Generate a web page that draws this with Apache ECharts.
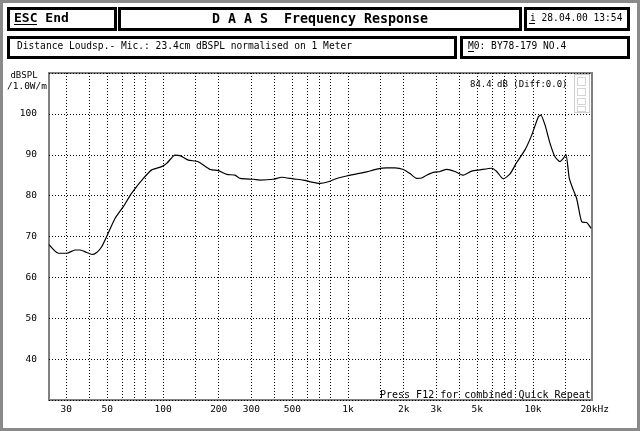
<!DOCTYPE html>
<html><head><meta charset="utf-8">
<script src="https://cdn.jsdelivr.net/npm/echarts@6/dist/echarts.min.js"></script>
<style>html,body{margin:0;padding:0;background:#fff}#c{width:640px;height:431px}</style>
</head><body><div id="c"></div>
<script>
// ---- data ----
const freqHz = [24.2,27.2,30.2,33.4,35.6,38.7,41.2,43.8,46.6,49.6,55,61,67.7,78.3,86.9,98.4,104.7,116.1,123.6,137,155,180,199,221,245,261,308,334,395,438,506,573,637,706,783,869,984,1114,1262,1429,1619,1795,1991,2163,2350,2500,2661,2891,3142,3416,3788,4200,4664,5170,5980,6365,6910,7510,8160,9050,9840,10690,11010,11610,12360,13150,13990,14580,15070,15710,16510,17220,18330,19500,20590];
const splDb = [68.0,65.9,65.9,66.7,66.7,66.1,65.6,66.1,67.5,70.0,74.4,77.3,80.6,84.2,86.3,87.1,87.9,89.9,89.8,88.7,88.3,86.4,86.1,85.2,85.0,84.2,84.0,83.8,84.0,84.5,84.1,83.8,83.3,83.0,83.4,84.2,84.8,85.3,85.8,86.5,86.8,86.8,86.4,85.4,84.2,84.3,85.0,85.7,85.9,86.4,85.9,85.0,86.0,86.3,86.7,85.9,84.1,85.3,88.1,91.2,94.8,99.3,99.7,97.3,92.8,89.5,88.3,89.1,90.1,84.2,81.4,79.3,73.6,73.4,72.0];
const gridFreqs = [30,40,50,60,70,80,100,150,200,300,400,500,600,700,800,1000,1500,2000,3000,4000,5000,6000,7000,8000,10000,15000];
const xLabelValues = [30,50,100,200,300,500,1000,2000,3000,5000,10000,20000];
const xLabelTexts = ['30','50','100','200','300','500','1k','2k','3k','5k','10k','20kHz'];
const yLabelValues = [40,50,60,70,80,90,100];

const MONO = '"DejaVu Sans Mono", "Liberation Mono", monospace';
const chart = echarts.init(document.getElementById('c'), null, {renderer:'canvas'});

function xLabel(v){
  for (let i=0;i<xLabelValues.length;i++){
    if (Math.abs(Math.log10(v)-Math.log10(xLabelValues[i]))<0.01){
      const t = xLabelTexts[i];
      return t==='20kHz' ? '{r|'+t+'}' : t;
    }
  }
  return '';
}

function box(x,y,w,h){
  return {type:'rect', shape:{x:x,y:y,width:w,height:h}, style:{fill:'#fff', stroke:'#000', lineWidth:3}, z:1};
}
function txt(x,y,t,size,bold,align){
  return {type:'text', x:x, y:y, z:5, style:{text:t, font:(bold?'bold ':'')+size+'px '+MONO, fill:'#000', textAlign:align||'left', textVerticalAlign:'middle'}};
}
function uline(x1,x2,y){
  return {type:'line', z:5, shape:{x1:x1,y1:y,x2:x2,y2:y}, style:{stroke:'#000', lineWidth:1}};
}

const option = {
  animation:false,
  backgroundColor:'#fff',
  grid:{left:49, top:73, width:543, height:327, show:true, borderColor:'#808080', borderWidth:2, backgroundColor:'#fff', containLabel:false},
  xAxis:{
    type:'log', logBase:10, min:24.19, max:20840,
    axisLine:{show:false},
    axisTick:{show:false, customValues:gridFreqs},
    axisLabel:{customValues:xLabelValues, formatter:xLabel, margin:5, color:'#000', fontFamily:MONO, fontSize:9.5,
      rich:{r:{fontFamily:MONO, fontSize:9.5, color:'#000', padding:[0,0,0,12]}}},
    splitLine:{show:true, lineStyle:{color:'#000', width:1, type:[1,2]}}
  },
  yAxis:{
    type:'value', min:30, max:110, interval:10,
    axisLine:{show:false}, axisTick:{show:false},
    axisLabel:{margin:12, color:'#000', fontFamily:MONO, fontSize:9.5,
      formatter:function(v){ return yLabelValues.indexOf(v)>=0 ? String(v) : ''; }},
    splitLine:{show:true, lineStyle:{color:'#000', width:1, type:[1,2]}}
  },
  series:[{
    type:'line', showSymbol:false, smooth:0.2,
    data: freqHz.map((f,i)=>[f, splDb[i]]),
    lineStyle:{color:'#000', width:1.2}, z:3
  }],
  graphic:[
    {type:'rect', shape:{x:1.5,y:1.5,width:637,height:428}, style:{fill:null, stroke:'#8a8a8a', lineWidth:3}, z:0},
    box(8.5,8.5,107,21), box(119.5,8.5,401,21), box(525.5,8.5,103,21),
    box(8.5,37.5,447,20), box(461.5,37.5,167,20),
    txt(14,19,'ESC End',13,true), uline(14,37,24.5),
    txt(320,19.5,'D A A S  Frequency Response',13.3,true,'center'),
    txt(530,18.5,'i 28.04.00 13:54',9.6,false), uline(529,535,23.5),
    txt(17,46.5,'Distance Loudsp.- Mic.: 23.4cm dBSPL normalised on 1 Meter',9.6,false),
    txt(468,46.5,'M0: BY78-179 NO.4',9.6,false), uline(468,474,51.5),
    txt(24,76,'dBSPL',9,false,'center'),
    txt(27,87,'/1.0W/m',9.5,false,'center'),
    txt(470,85,'84.4 dB (Diff:0.0)',9,false),
    {type:'rect', z:4, shape:{x:574.5,y:74.5,width:15,height:38}, style:{fill:'#fff', stroke:'#999', lineWidth:1, lineDash:[1,1]}},
    {type:'rect', z:4, shape:{x:577.5,y:77.5,width:8,height:8}, style:{fill:null, stroke:'#aaa', lineWidth:1, lineDash:[1,1]}},
    {type:'rect', z:4, shape:{x:577.5,y:88.5,width:8,height:7}, style:{fill:null, stroke:'#aaa', lineWidth:1, lineDash:[1,1]}},
    {type:'rect', z:4, shape:{x:577.5,y:98.5,width:8,height:6}, style:{fill:null, stroke:'#aaa', lineWidth:1, lineDash:[1,1]}},
    {type:'rect', z:4, shape:{x:577.5,y:106.5,width:8,height:5}, style:{fill:null, stroke:'#aaa', lineWidth:1, lineDash:[1,1]}},
    txt(380,395,'Press F12 for combined Quick Repeat',10,false)
  ]
};
chart.setOption(option);
</script>
</body></html>
